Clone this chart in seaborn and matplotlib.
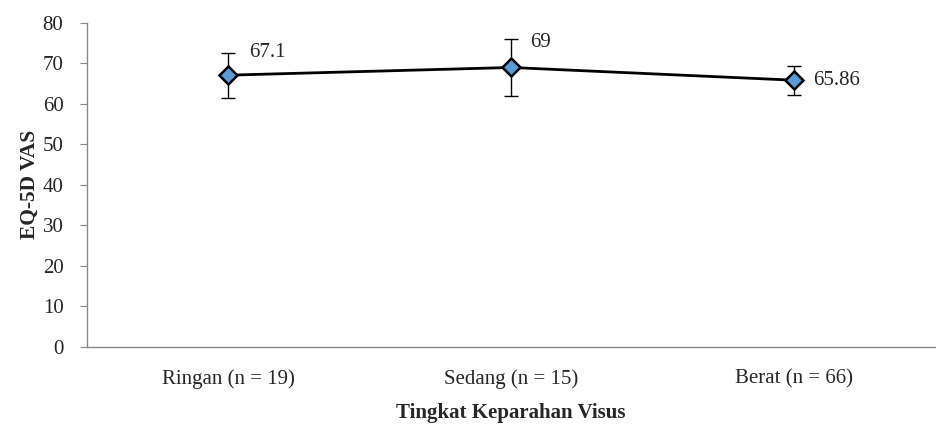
import pandas as pd
import seaborn as sns
import matplotlib.pyplot as plt
import numpy as np

# Data
categories = ["Ringan (n = 19)", "Sedang (n = 15)", "Berat (n = 66)"]
vas_mean = [67.1, 69.0, 65.86]
vas_err = [5.6, 7.1, 3.6]
labels = ["67.1", "69", "65.86"]

df = pd.DataFrame({"kategori": categories, "vas": vas_mean})

sns.set_style("white")
plt.rcParams['font.family'] = ['Liberation Serif', 'DejaVu Serif']

fig, ax = plt.subplots(figsize=(9.36, 4.25), dpi=100)
fig.subplots_adjust(left=0.093, right=0.999, top=0.946, bottom=0.184)

# error bars first so the markers sit on top
ax.errorbar(range(len(categories)), vas_mean, yerr=vas_err, fmt="none",
            ecolor="black", elinewidth=1, capsize=5, capthick=1, zorder=2)

sns.pointplot(data=df, x="kategori", y="vas", color="black", markers="D",
              errorbar=None, ax=ax, linewidth=2)
for line in ax.lines:
    if line.get_marker() == "D":
        line.set_markerfacecolor("#5B9BD5")
        line.set_markeredgecolor("black")
        line.set_markeredgewidth(1.8)
        line.set_markersize(9)
        line.set_zorder(3)

# value labels
offsets = [(15, 16), (14, 18), (14, 0)]
for i, (v, t) in enumerate(zip(vas_mean, labels)):
    ax.annotate(t, (i, v), xytext=offsets[i], textcoords="offset points",
                ha="left", va="center", fontsize=15)

ax.set_ylim(0, 80)
ax.set_yticks(range(0, 81, 10))
ax.set_xlim(-0.5, 2.5)
ax.set_xticks([0, 1, 2])
ax.set_xticks([-0.5, 0.5, 1.5, 2.5], minor=True)
ax.tick_params(axis="x", which="major", length=0, labelsize=15, pad=16)
ax.tick_params(axis="x", which="minor", length=5, color="#888888", direction="out")
ax.tick_params(axis="y", length=5, color="#888888", direction="out", labelsize=15,
               left=True, pad=12)

for side in ["top", "right"]:
    ax.spines[side].set_visible(False)
for side in ["left", "bottom"]:
    ax.spines[side].set_color("#888888")
    ax.spines[side].set_linewidth(1)

ax.set_xlabel("Tingkat Keparahan Visus", fontsize=15, fontweight="bold", labelpad=10)
ax.set_ylabel("EQ-5D VAS", fontsize=15.5, fontweight="bold", labelpad=2)

fig.savefig("out.png", dpi=100)
